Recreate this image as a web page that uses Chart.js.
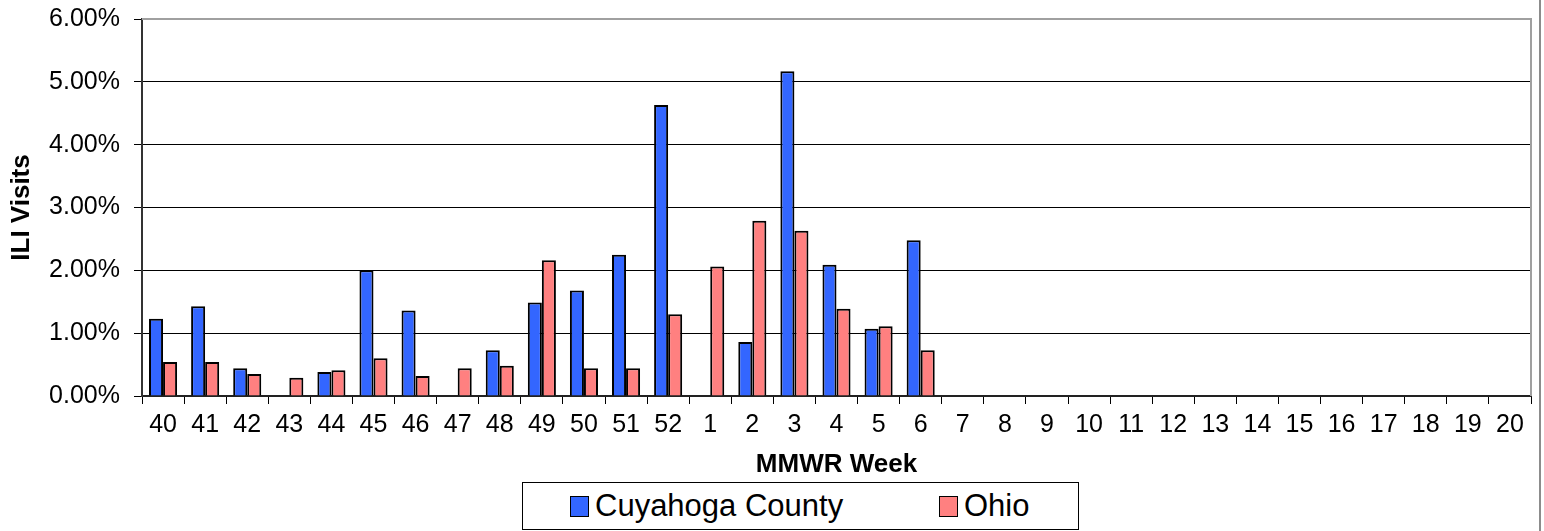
<!DOCTYPE html>
<html>
<head>
<meta charset="utf-8">
<script src="https://cdn.jsdelivr.net/npm/chart.js@4/dist/chart.umd.min.js"></script>
<style>
  html, body { margin: 0; padding: 0; background: #fff; }
  #wrap { position: relative; width: 1544px; height: 531px; overflow: hidden; }
  #edge { position: absolute; left: 1539px; top: 0; width: 2px; height: 531px; background: #8c8c8c; }
  #legend {
    position: absolute; left: 522px; top: 482px; width: 555px; height: 46px;
    border: 1px solid #000; background: #fff;
    font-family: "Liberation Sans", Arial, sans-serif; font-size: 31px; color: #000;
  }
  .item { position: absolute; top: 5px; display: flex; align-items: center; height: 36px; white-space: nowrap; }
  .swatch { width: 17px; height: 19px; border: 1.5px solid #000; margin-right: 6px; }
</style>
</head>
<body>
<div id="wrap">
  <canvas id="iliChart" width="1544" height="531"></canvas>
  <div id="edge"></div>
  <div id="legend"></div>
</div>
<script>
// MMWR weeks, season 40 .. 20
const weeks = ["40", "41", "42", "43", "44", "45", "46", "47", "48", "49", "50", "51", "52",
  "1", "2", "3", "4", "5", "6", "7", "8", "9", "10", "11", "12", "13", "14", "15", "16", "17", "18", "19", "20"];

// ILI visits, percent
const cuyahoga = [1.23, 1.43, 0.44, null, 0.38, 2.00, 1.36, null, 0.73, 1.49, 1.68, 2.25, 4.63,
  null, 0.86, 5.17, 2.09, 1.07, 2.48, null, null, null, null, null, null, null, null, null, null, null, null, null, null];
const ohio = [0.54, 0.54, 0.35, 0.29, 0.41, 0.60, 0.32, 0.44, 0.48, 2.16, 0.44, 0.44, 1.30,
  2.06, 2.79, 2.63, 1.39, 1.11, 0.73, null, null, null, null, null, null, null, null, null, null, null, null, null, null];

const yTicks = [0, 1, 2, 3, 4, 5, 6];

const FONT = "'Liberation Sans', Arial, sans-serif";

// gray frame on top and right of the plot area
const plotFrame = {
  id: "plotFrame",
  afterDraw(chart) {
    const { ctx, chartArea: a } = chart;
    ctx.save();
    ctx.strokeStyle = "#a0a0a0";
    ctx.lineWidth = 2;
    ctx.beginPath();
    ctx.moveTo(a.left, a.top);
    ctx.lineTo(a.right, a.top);
    ctx.lineTo(a.right, a.bottom);
    ctx.stroke();
    ctx.restore();
  },
};

const chart = new Chart(document.getElementById("iliChart"), {
  type: "bar",
  data: {
    labels: weeks,
    datasets: [
      {
        label: "Cuyahoga County",
        data: cuyahoga,
        backgroundColor: "#3366FF",
        borderColor: "#000",
        borderWidth: 2,
      },
      {
        label: "Ohio",
        data: ohio,
        backgroundColor: "#FF8080",
        borderColor: "#000",
        borderWidth: 2,
      },
    ],
  },
  options: {
    responsive: false,
    animation: false,
    devicePixelRatio: 1,
    layout: { padding: { top: 19, right: 13, bottom: 0, left: 0 } },
    datasets: { bar: { categoryPercentage: 0.667, barPercentage: 1 } },
    plugins: {
      legend: { display: false },
      tooltip: { enabled: false },
    },
    scales: {
      x: {
        grid: { offset: true, drawOnChartArea: false, drawTicks: true, tickLength: 8, color: "#000" },
        border: { color: "#222", width: 2 },
        ticks: { color: "#000", font: { family: FONT, size: 25 }, padding: 6, maxRotation: 0, autoSkip: false },
        title: {
          display: true,
          text: "MMWR Week",
          color: "#000",
          font: { family: FONT, size: 26, weight: "bold" },
          padding: { top: 0, bottom: 51 },
        },
        afterFit(scale) {
          scale.height = 135;
          scale.paddingLeft = 0;
          scale.paddingRight = 0;
        },
      },
      y: {
        min: 0,
        max: 6,
        afterBuildTicks(scale) { scale.ticks = yTicks.map((v) => ({ value: v })); },
        grid: { color: "#000", lineWidth: 1, tickLength: 8, tickColor: "#000" },
        border: { color: "#333", width: 2 },
        ticks: {
          color: "#000",
          font: { family: FONT, size: 25 },
          padding: 14,
          callback: (v) => v.toFixed(2) + "%",
        },
        title: {
          display: true,
          text: "ILI Visits",
          color: "#000",
          font: { family: FONT, size: 26, weight: "bold" },
          padding: { top: 6, bottom: 0 },
        },
        afterFit(scale) {
          scale.width = 142;
          scale.paddingTop = 0;
          scale.paddingBottom = 0;
        },
      },
    },
  },
  plugins: [plotFrame],
});

// Legend box below the chart, built from the datasets
const legendEl = document.getElementById("legend");
const legendX = [47, 416];
chart.data.datasets.forEach((ds, i) => {
  const item = document.createElement("div");
  item.className = "item";
  item.style.left = legendX[i] + "px";
  item.innerHTML = `<span class="swatch" style="background:${ds.backgroundColor}"></span><span>${ds.label}</span>`;
  legendEl.appendChild(item);
});
</script>
</body>
</html>
